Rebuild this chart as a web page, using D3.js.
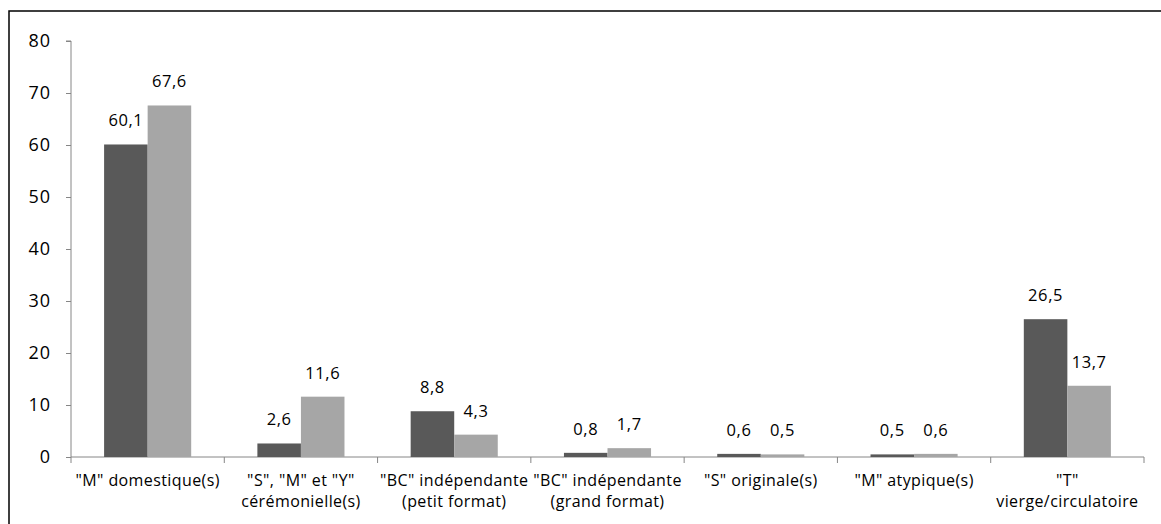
<!DOCTYPE html>
<html><head><meta charset="utf-8">
<script src="https://cdn.jsdelivr.net/npm/d3@7"></script>
<style>body{margin:0;background:#fff}svg{display:block}text{font-family:"Open Sans",sans-serif;fill:#000}</style>
</head><body><svg id="c" width="1161" height="524"></svg>
<script>
const categories = [["\"M\" domestique(s)"], ["\"S\", \"M\" et \"Y\"", "cérémonielle(s)"], ["\"BC\" indépendante", "(petit format)"], ["\"BC\" indépendante", "(grand format)"], ["\"S\" originale(s)"], ["\"M\" atypique(s)"], ["\"T\"", "vierge/circulatoire"]];
const series1 = [60.1, 2.6, 8.8, 0.8, 0.6, 0.5, 26.5];
const series2 = [67.6, 11.6, 4.3, 1.7, 0.5, 0.6, 13.7];
const yTicks = [0, 10, 20, 30, 40, 50, 60, 70, 80];
const colors = ["#595959", "#a6a6a6"];

const svg = d3.select("#c");
svg.append("rect").attr("x", 9).attr("y", 11).attr("width", 1160).attr("height", 530)
  .attr("fill", "none").attr("stroke", "#000").attr("stroke-width", 1.5);

const L = 71, R = 1144, T = 41, B = 457;
const x = d3.scaleBand().domain(d3.range(categories.length)).range([L, R]);
const xs = d3.scaleBand().domain([0, 1]).range([0, x.bandwidth()]).paddingOuter(0.76).paddingInner(0);
const y = d3.scaleLinear().domain([0, 80]).range([B, T]);

// y axis
const ya = svg.append("g").attr("transform", `translate(${L},0)`)
  .call(d3.axisLeft(y).tickValues(yTicks).tickSize(5).tickPadding(15).tickFormat(d3.format("d")));
ya.select(".domain").attr("stroke", "#868686").attr("d", `M-5,${T}H0V${B}`);
ya.selectAll(".tick line").attr("stroke", "#868686");
ya.selectAll(".tick text").style("font-size", "18px").style("letter-spacing", "1px")
  .style("font-family", "'Open Sans',sans-serif").attr("fill", "#000");

// x axis
const xa = svg.append("g").attr("transform", `translate(0,${B})`);
xa.append("line").attr("x1", L).attr("x2", R).attr("stroke", "#868686");
const bounds = d3.range(categories.length + 1).map(i => i < categories.length ? x(i) : x(i - 1) + x.bandwidth());
xa.selectAll("line.tk").data(bounds).join("line").attr("class", "tk")
  .attr("x1", d => d).attr("x2", d => d).attr("y1", 0).attr("y2", 6).attr("stroke", "#868686");
xa.selectAll("text.cat").data(categories).join("text").attr("class", "cat")
  .attr("text-anchor", "middle").style("font-size", "16px").style("letter-spacing", "0.4px")
  .attr("transform", (d, i) => `translate(${x(i) + x.bandwidth() / 2},29)`)
  .selectAll("tspan").data(d => d).join("tspan")
  .attr("x", 0).attr("dy", (d, j) => j === 0 ? 0 : 21).text(d => d);

const fmt = v => d3.format(".1f")(v).replace(".", ",");
[series1, series2].forEach((s, k) => {
  const g = svg.append("g");
  g.selectAll("rect").data(s).join("rect")
    .attr("x", (d, i) => x(i) + xs(k)).attr("width", xs.bandwidth())
    .attr("y", d => y(d)).attr("height", d => B - y(d)).attr("fill", colors[k]);
  g.selectAll("text").data(s).join("text")
    .attr("x", (d, i) => x(i) + xs(k) + xs.bandwidth() / 2).attr("y", d => y(d) - 18)
    .attr("text-anchor", "middle").style("font-size", "16.5px").style("letter-spacing", "0.6px").text(fmt);
});
</script></body></html>
